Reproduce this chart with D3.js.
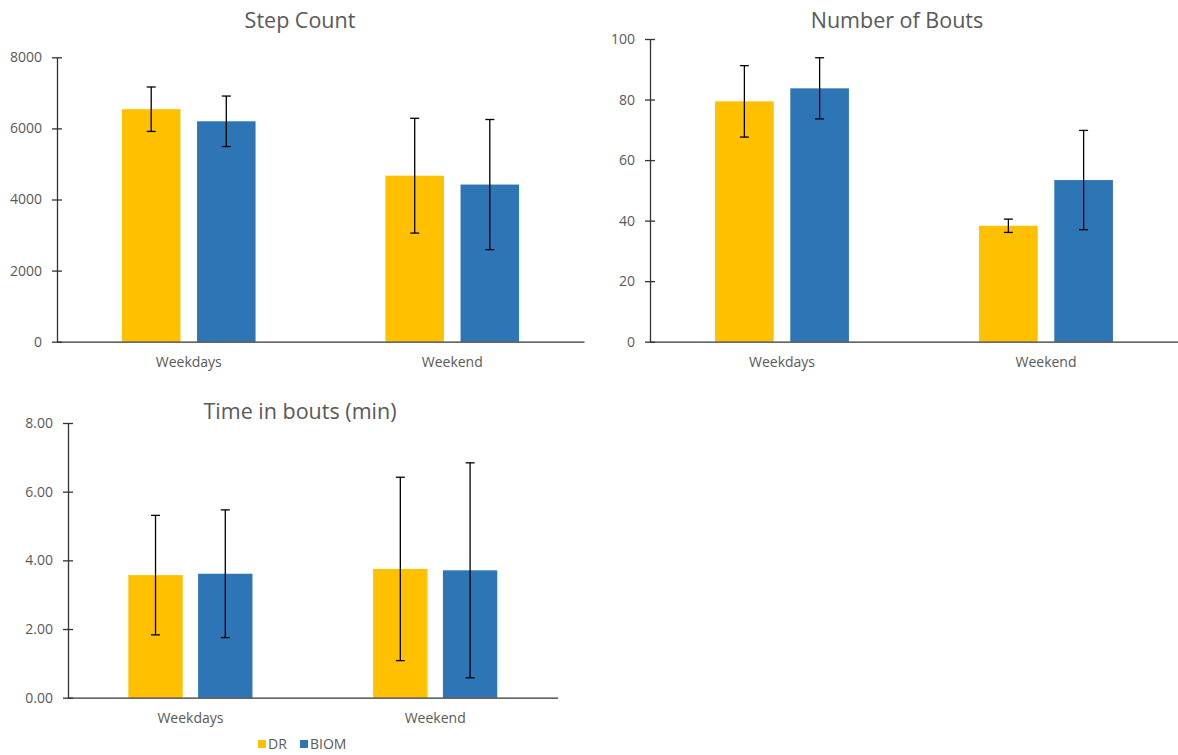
<!DOCTYPE html>
<html>
<head>
<meta charset="utf-8">
<script src="https://cdn.jsdelivr.net/npm/d3@7"></script>
<style>
  body { margin: 0; background: #fff; }
  svg { display: block; font-family: "Open Sans", "Liberation Sans", sans-serif; }
</style>
</head>
<body>
<svg id="chart" width="1178" height="755"></svg>
<script>
const categories = ["Weekdays", "Weekend"];
const seriesNames = ["DR", "BIOM"];
const seriesColors = ["#FFC000", "#2E75B6"];

const stepMean = { DR: [6540, 4670], BIOM: [6200, 4420] };
const stepErr  = { DR: [625, 1615],  BIOM: [710, 1830] };
const stepTicks = [0, 2000, 4000, 6000, 8000];

const boutsMean = { DR: [79.4, 38.3], BIOM: [83.7, 53.4] };
const boutsErr  = { DR: [11.8, 2.2],  BIOM: [10.1, 16.4] };
const boutsTicks = [0, 20, 40, 60, 80, 100];

const timeMean = { DR: [3.57, 3.75], BIOM: [3.61, 3.71] };
const timeErr  = { DR: [1.74, 2.67], BIOM: [1.86, 3.13] };
const timeTicks = [0, 2, 4, 6, 8];

const svg = d3.select("#chart");

function drawPanel(opt) {
  const g = svg.append("g");
  const x = d3.scaleBand().domain(categories).range([opt.x0, opt.x1]).padding(0);
  const bw = x.bandwidth();
  const x1 = d3.scaleBand().domain(seriesNames)
    .range([bw * (0.5 - 0.2535), bw * (0.5 + 0.2535)])
    .paddingInner(0.221).paddingOuter(0);
  const y = d3.scaleLinear().domain([0, opt.max]).range([opt.y0, opt.y1]);

  // title
  g.append("text")
    .attr("x", opt.titleX).attr("y", opt.titleY)
    .attr("text-anchor", "middle")
    .attr("font-size", 21.5).attr("fill", "#595959")
    .text(opt.title);

  // bars
  seriesNames.forEach((s, si) => {
    categories.forEach((c, ci) => {
      const v = opt.mean[s][ci];
      const e = opt.err[s][ci];
      const bx = x(c) + x1(s);
      g.append("rect")
        .attr("x", bx).attr("y", y(v))
        .attr("width", x1.bandwidth()).attr("height", y(0) - y(v))
        .attr("fill", seriesColors[si]);
      const cx = bx + x1.bandwidth() / 2;
      g.append("line")
        .attr("x1", cx).attr("x2", cx)
        .attr("y1", y(v + e)).attr("y2", y(v - e))
        .attr("stroke", "#000").attr("stroke-width", 1.3);
      [v + e, v - e].forEach(t => {
        g.append("line")
          .attr("x1", cx - 4.5).attr("x2", cx + 4.5)
          .attr("y1", y(t)).attr("y2", y(t))
          .attr("stroke", "#000").attr("stroke-width", 1.3);
      });
    });
  });

  // y axis
  const ya = g.append("g")
    .attr("transform", `translate(${opt.x0},0)`)
    .call(d3.axisLeft(y).tickValues(opt.ticks).tickFormat(opt.fmt).tickSizeInner(5).tickSizeOuter(0).tickPadding(10));
  ya.select(".domain").attr("stroke", "#333").attr("stroke-width", 1.3);
  ya.selectAll(".tick line").attr("x1", -5).attr("x2", 5).attr("stroke", "#333").attr("stroke-width", 1.3);
  ya.selectAll(".tick text").attr("font-size", 14).attr("fill", "#595959")
    .attr("font-family", "'Open Sans', sans-serif");

  // x axis
  const xa = g.append("g")
    .attr("transform", `translate(0,${opt.y0})`)
    .call(d3.axisBottom(x).tickSize(0).tickPadding(opt.xPad));
  xa.select(".domain").attr("stroke", "#333").attr("stroke-width", 1.3);
  xa.selectAll(".tick text").attr("font-size", 14).attr("fill", "#595959")
    .attr("font-family", "'Open Sans', sans-serif");
}

drawPanel({
  title: "Step Count", titleX: 300, titleY: 28,
  x0: 57, x1: 584, y0: 341.7, y1: 57.3, max: 8000,
  ticks: stepTicks, fmt: d3.format("d"),
  mean: stepMean, err: stepErr, xPad: 15
});

drawPanel({
  title: "Number of Bouts", titleX: 897, titleY: 28,
  x0: 650, x1: 1178, y0: 341.7, y1: 39, max: 100,
  ticks: boutsTicks, fmt: d3.format("d"),
  mean: boutsMean, err: boutsErr, xPad: 15
});

drawPanel({
  title: "Time in bouts (min)", titleX: 300, titleY: 419,
  x0: 68, x1: 557.6, y0: 697.7, y1: 423, max: 8,
  ticks: timeTicks, fmt: d3.format(".2f"),
  mean: timeMean, err: timeErr, xPad: 15
});

// legend
const legend = svg.append("g");
const legX = [258, 300];
seriesNames.forEach((s, i) => {
  legend.append("rect")
    .attr("x", legX[i]).attr("y", 740)
    .attr("width", 8).attr("height", 8)
    .attr("fill", seriesColors[i]);
  legend.append("text")
    .attr("x", legX[i] + 10).attr("y", 749)
    .attr("font-size", 14).attr("fill", "#595959")
    .text(s);
});
</script>
</body>
</html>
